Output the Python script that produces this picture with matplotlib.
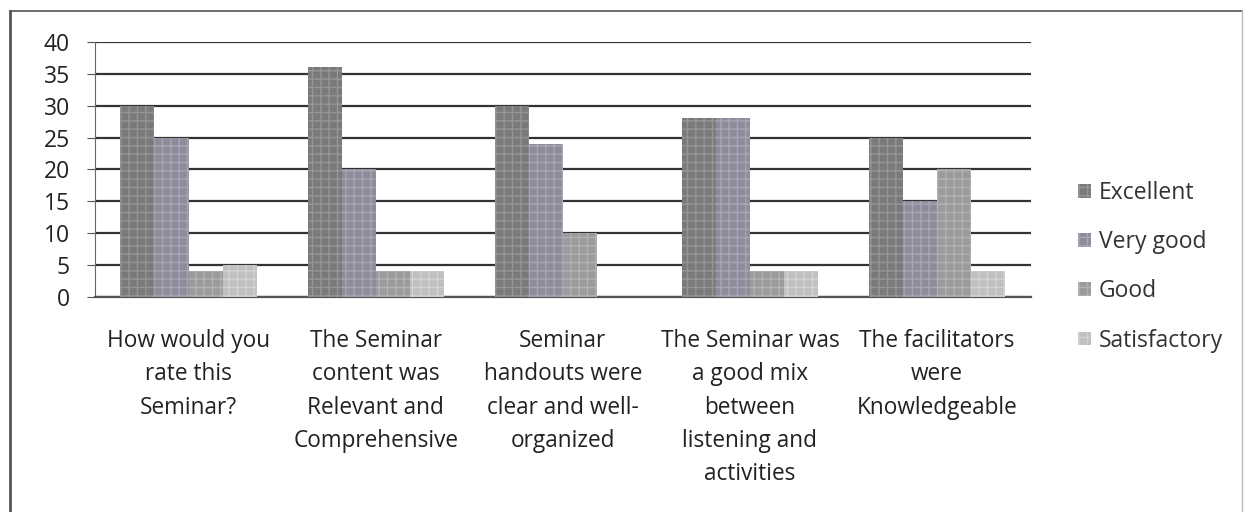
import matplotlib
matplotlib.use("Agg")
import matplotlib.pyplot as plt
import matplotlib.patches as mpatches
import numpy as np

questions = [
    "How would you\nrate this\nSeminar?",
    "The Seminar\ncontent was\nRelevant and\nComprehensive",
    "Seminar\nhandouts were\nclear and well-\norganized",
    "The Seminar was\na good mix\nbetween\nlistening and\nactivities",
    "The facilitators\nwere\nKnowledgeable",
]
ratings = ["Excellent", "Very good", "Good", "Satisfactory"]
excellent = [30, 36, 30, 28, 25]
very_good = [25, 20, 24, 28, 15]
good = [4, 4, 10, 4, 20]
satisfactory = [5, 4, 0, 4, 4]

colors = ["#7a7a7a", "#8c8c9a", "#9b9b9b", "#c0c0c0"]
hatch_colors = ["#969696", "#a6a6b4", "#b2b2b2", "#d2d2d2"]

plt.rcParams["font.family"] = ["Open Sans", "DejaVu Sans"]
fig = plt.figure(figsize=(12.46, 5.12), dpi=100)
ax = fig.add_axes([0.0762, 0.42, 0.751, 0.498])

x = np.arange(len(questions))
w = 0.182
series = [excellent, very_good, good, satisfactory]
for i, vals in enumerate(series):
    ax.bar(x + (i - 1.5) * w, vals, w, color=colors[i], edgecolor=hatch_colors[i],
           hatch="++", linewidth=0, label=ratings[i], zorder=3)

ax.set_ylim(0, 40)
ax.set_xlim(-0.5, len(questions) - 0.5)
ax.set_yticks(range(0, 41, 5))
ax.yaxis.grid(True, color="#333333", linewidth=1.6, zorder=0)
ax.set_axisbelow(True)
for s in ["top", "right"]:
    ax.spines[s].set_visible(False)
ax.spines["left"].set_color("#666666")
ax.spines["bottom"].set_color("#555555")
ax.spines["bottom"].set_linewidth(1.6)
ax.tick_params(axis="y", length=6, color="#555555", labelsize=16.5, pad=12, labelcolor="#222222")
ax.set_xticks(x)
ax.set_xticklabels(questions, fontsize=16.3, color="#222222", linespacing=1.52, va="top")
ax.tick_params(axis="x", length=0, pad=23)

handles = [mpatches.Patch(facecolor=colors[i], edgecolor=hatch_colors[i], hatch="++", linewidth=0)
           for i in range(4)]
fig.legend(handles, ratings, loc="upper left", bbox_to_anchor=(0.856, 0.669), frameon=False,
           fontsize=16.5, labelspacing=1.1, handlelength=0.55, handleheight=0.55,
           handletextpad=0.35, borderpad=0, labelcolor="#333333")

# outer chart frame
fig.add_artist(plt.Line2D([0.008, 0.008], [0.0, 0.978], color="#555555", linewidth=2))
fig.add_artist(plt.Line2D([0.008, 0.997], [0.978, 0.978], color="#555555", linewidth=1.2))
fig.add_artist(plt.Line2D([0.997, 0.997], [0.0, 0.978], color="#bbbbbb", linewidth=1))

fig.savefig("out.png", dpi=100)
